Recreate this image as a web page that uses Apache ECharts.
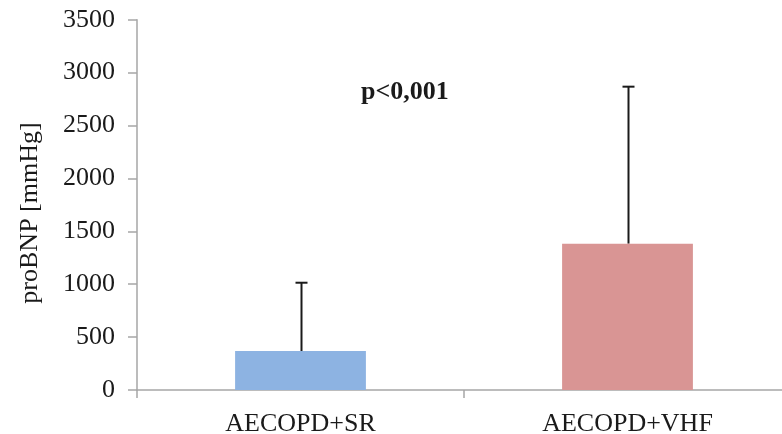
<!DOCTYPE html>
<html><head><meta charset="utf-8">
<script src="https://cdn.jsdelivr.net/npm/echarts@6/dist/echarts.min.js"></script>
<style>html,body{margin:0;padding:0;background:#fff}#c{width:782px;height:434px}</style>
</head><body><div id="c"></div>
<script>
var categories = ['AECOPD+SR', 'AECOPD+VHF'];
var means = [368, 1383];
var upperErr = [1014, 2867];
var barColors = ['#8db3e2', '#d99594'];
var yTicks = [0, 500, 1000, 1500, 2000, 2500, 3000, 3500];
var yTitle = 'proBNP [mmHg]';
var annotation = 'p<0,001';

var chart = echarts.init(document.getElementById('c'));
var font = 'Liberation Serif';
chart.setOption({
  animation: false,
  grid: { left: 137, top: 19.7, width: 654, bottom: 44, outerBoundsMode: 'none', containLabel: false },
  xAxis: {
    type: 'category', data: categories,
    axisLine: { lineStyle: { color: '#a6a6a6', width: 1.5 } },
    axisTick: { show: true, length: 8, lineStyle: { color: '#a6a6a6', width: 1.5 } },
    axisLabel: { color: '#1a1a1a', fontFamily: font, fontSize: 26, margin: 21 }
  },
  yAxis: {
    type: 'value', min: yTicks[0], max: yTicks[yTicks.length - 1], interval: 500,
    axisLine: { show: true, lineStyle: { color: '#a6a6a6', width: 1.5 } },
    axisTick: { show: true, length: 9, lineStyle: { color: '#a6a6a6', width: 1.5 } },
    splitLine: { show: false },
    axisLabel: { color: '#1a1a1a', fontFamily: font, fontSize: 26, margin: 22,
      formatter: function (v) { return String(v); } }
  },
  series: [
    {
      type: 'bar', barWidth: '40%',
      data: means.map(function (v, i) { return { value: v, itemStyle: { color: barColors[i] } }; }),
      z: 2
    },
    {
      type: 'custom', z: 1,
      data: means.map(function (v, i) { return [i, v, upperErr[i]]; }),
      renderItem: function (params, api) {
        var base = api.coord([api.value(0), api.value(1)]);
        var top = api.coord([api.value(0), api.value(2)]);
        var x = Math.round(base[0]) + 0.5;
        return {
          type: 'group', children: [
            { type: 'line', shape: { x1: x, y1: base[1], x2: x, y2: top[1] }, style: { stroke: '#1a1a1a', lineWidth: 2 } },
            { type: 'line', shape: { x1: x - 6, y1: top[1], x2: x + 6, y2: top[1] }, style: { stroke: '#1a1a1a', lineWidth: 2 } }
          ]
        };
      }
    }
  ],
  graphic: [
    {
      type: 'text', x: 30, y: 213, rotation: Math.PI / 2,
      style: { text: yTitle, fontFamily: font, fontSize: 26, fill: '#1a1a1a', align: 'center', verticalAlign: 'middle' }
    },
    {
      type: 'text', left: 361, top: 79,
      style: { text: annotation, fontFamily: font, fontSize: 26, fontWeight: 'bold', fill: '#1a1a1a' }
    }
  ]
});
</script>
</body></html>
